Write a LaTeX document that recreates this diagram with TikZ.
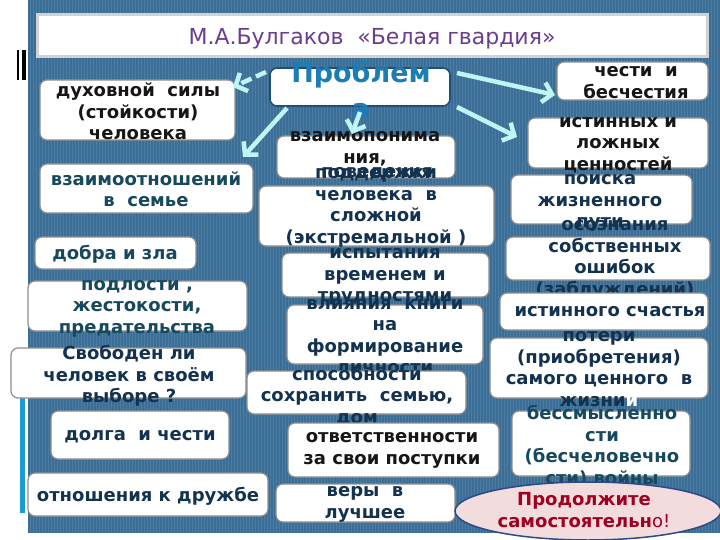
\documentclass[tikz,border=0pt]{standalone}
\usepackage{fontspec}
\setmainfont{DejaVu Sans}
\usetikzlibrary{arrows.meta,shapes.geometric}

\definecolor{bgblue}{HTML}{3C6E95}
\definecolor{stripe}{HTML}{4B7EA4}
\definecolor{boxline}{HTML}{8E8E8E}
\definecolor{inknavy}{HTML}{12324F}
\definecolor{inkblack}{HTML}{161616}
\definecolor{inkteal}{HTML}{17495E}
\definecolor{probblue}{HTML}{1A7DB5}
\definecolor{probline}{HTML}{1F4E79}
\definecolor{arrcyan}{HTML}{BFF5F5}
\definecolor{titlepurple}{HTML}{6B3D8E}
\definecolor{ovalfill}{HTML}{F2DCDE}
\definecolor{ovalline}{HTML}{2C4A86}
\definecolor{redtxt}{HTML}{A00020}
\definecolor{sidebar}{HTML}{1A9AD6}

\tikzset{
  box/.style={draw=boxline, fill=white, line width=1.2pt, rounded corners=7pt, inner sep=0pt},
  txt/.style={font=\bfseries\fontsize{18}{21.5}\selectfont, align=center, inner sep=0pt},
  arr/.style={draw=arrcyan, line width=4.5pt, -{Straight Barb[length=9pt,width=20pt]}}
}

\begin{document}
\begin{tikzpicture}[x=1pt,y=-1pt]

\useasboundingbox (0,0) rectangle (720,540);

%background

\fill[white] (0,0) rectangle (720,540);
\fill[bgblue] (28,0) rectangle (720,533);
\foreach \x in {30,33,...,720}
  \draw[stripe, line width=0.8pt] (\x,0) -- (\x,533);

\fill[black] (17,50) rectangle (19,80);
\fill[black] (22,50) rectangle (26,80);
\fill[sidebar] (20,358) rectangle (25,513);

% title

\node[draw=gray!35, fill=white, line width=3pt, minimum width=670pt, minimum height=42pt, inner sep=0pt] (title) at (372,35.5) {};
\node[font=\fontsize{22}{26}\selectfont, text=titlepurple, inner sep=0pt] (title-t) at (372,39) {М.А.Булгаков\ \ «Белая гвардия»};

% boxes and their texts

\node[box, minimum width=151pt, minimum height=38pt] (chest) at (632.5,81) {};
\node[txt, text=inkblack] (chest-t) at (636,82.5) {чести\ \ и\\бесчестия};

\node[box, draw=probline, line width=1.6pt, minimum width=180pt, minimum height=38pt] (prob) at (360,87) {};
\node[txt, text=probblue, font=\bfseries\fontsize{27}{36}\selectfont] (prob-t) at (361,90) {Проблем\\а};

\node[box, minimum width=195pt, minimum height=60pt] (duh) at (137.5,110) {};
\node[txt, text=inkblack] (duh-t) at (138,111.5) {духовной\ \ силы\\(стойкости)\\человека};

\node[box, minimum width=180pt, minimum height=50pt] (ist) at (618,143) {};
\node[txt, text=inkblack] (ist-t) at (618,145) {истинных и\\ложных\\ценностей};

\node[box, minimum width=178pt, minimum height=42pt] (vzp) at (366,157) {};
\node[txt, text=inkblack] (vzp-t) at (365,148.5) {взаимопонима\\ния,};
\node[txt, text=inknavy] (vzp-t2) at (377,174) {поведения};

\node[box, minimum width=213pt, minimum height=49pt] (vzo) at (146.5,188.5) {};
\node[txt, text=inkteal] (vzo-t) at (146,189) {взаимоотношений\\в\ \ семье};

\node[box, minimum width=181pt, minimum height=49pt] (poisk) at (601.5,199.5) {};
\node[txt, text=inknavy] (poisk-t) at (600,203) {поиска\\жизненного\\пути};

\node[box, minimum width=235pt, minimum height=60pt] (podd) at (376.5,216) {};
\node[txt, text=inknavy] (podd-t) at (376,208) {поддержки\\человека\ \ в\\сложной\\(экстремальной )};

\node[box, minimum width=161pt, minimum height=32pt] (dobr) at (115.5,253) {};
\node[txt, text=inkteal] (dobr-t) at (115,254) {добра и зла};

\node[box, minimum width=204pt, minimum height=43pt] (osozn) at (608,258.5) {};
\node[txt, text=inknavy] (osozn-t) at (615,260) {осознания\\собственных\\ошибок\\(заблуждений)};

\node[box, minimum width=207pt, minimum height=44pt] (isp) at (385.5,275) {};
\node[txt, text=inknavy] (isp-t) at (385,277) {испытания\\временем и\\трудностями};

\node[box, minimum width=219pt, minimum height=50pt] (podl) at (137.5,306) {};
\node[txt, text=inkteal] (podl-t) at (137,308.5) {подлости ,\\жестокости,\\предательства};

\node[box, minimum width=208pt, minimum height=37pt] (schast) at (604,311.5) {};
\node[txt, text=inknavy] (schast-t) at (610,312) {истинного счастья};

\node[box, minimum width=196pt, minimum height=59pt] (vliy) at (385,334.5) {};
\node[txt, text=inknavy] (vliy-t) at (385,336.5) {влияния\ \ книги\\на\\формирование\\личности};

\node[box, minimum width=218pt, minimum height=60pt] (poter) at (599,368) {};
\node[txt, text=inknavy] (poter-t) at (599,369) {потери\\(приобретения)\\самого ценного\ \ в\\жизни{\color{white}и}};

\node[box, minimum width=235pt, minimum height=50pt] (svob) at (128.5,373) {};
\node[txt, text=inknavy] (svob-t) at (129,376) {Свободен ли\\человек в своём\\выборе ?};

\node[box, minimum width=219pt, minimum height=43pt] (sposob) at (356.5,392.5) {};
\node[txt, text=inknavy] (sposob-t) at (357,396) {способности\\сохранить\ \ семью,\\дом};

\node[box, minimum width=178pt, minimum height=48pt] (dolg) at (140,435) {};
\node[txt, text=inknavy] (dolg-t) at (140,437) {долга\ \ и чести};

\node[box, minimum width=178pt, minimum height=65pt] (bessm) at (601,443.5) {};
\node[txt, text=inkteal] (bessm-t) at (602,446) {бессмысленно\\сти\\(бесчеловечно\\сти) войны};

\node[box, minimum width=211pt, minimum height=54pt] (otv) at (393.5,450) {};
\node[txt, text=inkblack] (otv-t) at (392,450.5) {ответственности\\за свои поступки};

\node[box, minimum width=240pt, minimum height=43pt] (druzh) at (148,494.5) {};
\node[txt, text=inknavy] (druzh-t) at (148,496) {отношения к дружбе};

\node[box, minimum width=179pt, minimum height=38pt] (very) at (365.5,503) {};
\node[txt, text=inknavy] (very-t) at (365,504.5) {веры\ \ в\\лучшее};

% oval

\node[ellipse, draw=ovalline, fill=ovalfill, line width=1.5pt, minimum width=266pt, minimum height=58pt, inner sep=0pt] (more) at (588,511) {};
\node[txt, text=redtxt] (more-t) at (584,510) {Продолжите\\самостоятельн{\mdseries о!}};

% arrows

\coordinate (a1-from) at (266,72);
\coordinate (a1-to) at (233,87);
\coordinate (a2-from) at (287,108);
\coordinate (a2-to) at (243,157);
\coordinate (a3-from) at (360,112);
\coordinate (a3-to) at (352,134);
\coordinate (a4-from) at (457,73);
\coordinate (a4-to) at (555,95);
\coordinate (a5-from) at (457,107);
\coordinate (a5-to) at (517,137);

\draw[arr, dash pattern=on 11pt off 5pt] (a1-from) -- (a1-to);
\draw[arr] (a2-from) -- (a2-to);
\draw[arr] (a3-from) -- (a3-to);
\draw[arr] (a4-from) -- (a4-to);
\draw[arr] (a5-from) -- (a5-to);

\end{tikzpicture}
\end{document}
